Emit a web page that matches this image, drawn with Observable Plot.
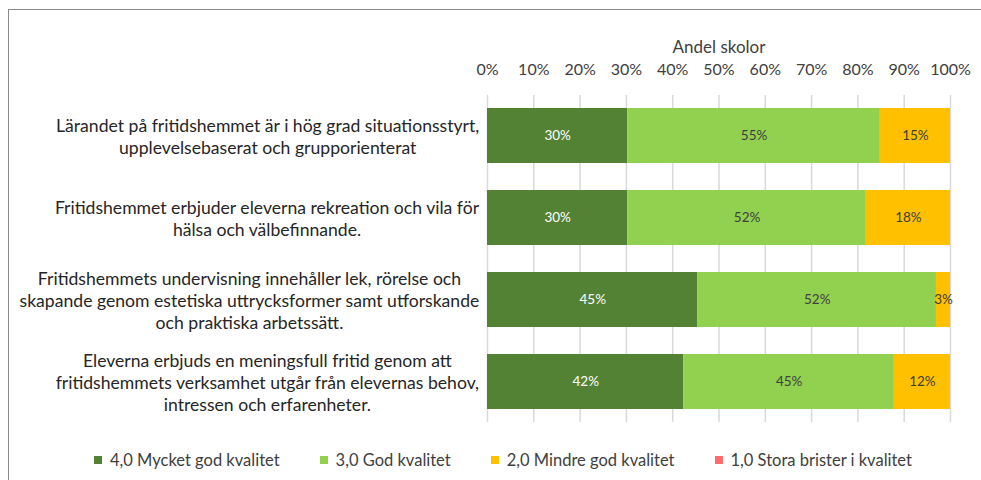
<!DOCTYPE html>
<html><head><meta charset="utf-8">
<script src="https://cdn.jsdelivr.net/npm/d3@7"></script>
<script src="https://cdn.jsdelivr.net/npm/@observablehq/plot@0.6"></script>
<style>
html,body{margin:0;padding:0;overflow:hidden;background:#fff;font-family:Lato, sans-serif;}
#frame{position:absolute;left:8px;top:9px;width:2000px;height:2000px;border-left:1px solid #8a8a8a;border-top:1px solid #8a8a8a;}
#chart{position:absolute;left:0;top:0;}
#legend{position:absolute;left:94px;top:449px;display:flex;gap:40px;font-size:16.5px;color:#404040;line-height:22px;}
.item{display:flex;align-items:center;white-space:nowrap;}
.sw{width:8px;height:8px;margin-right:8px;}
</style></head><body>
<div id="frame"></div><div id="chart"></div><div id="legend"></div>
<script>
const questions = [
  "Lärandet på fritidshemmet är i hög grad situationsstyrt,\nupplevelsebaserat och grupporienterat",
  "Fritidshemmet erbjuder eleverna rekreation och vila för\nhälsa och välbefinnande.",
  "Fritidshemmets undervisning innehåller lek, rörelse och\nskapande genom estetiska uttrycksformer samt utforskande\noch praktiska arbetssätt.",
  "Eleverna erbjuds en meningsfull fritid genom att\nfritidshemmets verksamhet utgår från elevernas behov,\nintressen och erfarenheter."
];
const categories = ["4,0 Mycket god kvalitet", "3,0 God kvalitet", "2,0 Mindre god kvalitet", "1,0 Stora brister i kvalitet"];
const colors = ["#548235", "#92d050", "#ffc000", "#ff6b6b"];
const mycketGod = [30.30, 30.30, 45.45, 42.42];
const god = [54.55, 51.52, 51.52, 45.45];
const mindreGod = [15.15, 18.18, 3.03, 12.12];
const storaBrister = [0, 0, 0, 0];
const xTicks = [0, 10, 20, 30, 40, 50, 60, 70, 80, 90, 100];
const axisTitle = "Andel skolor";

const series = [mycketGod, god, mindreGod, storaBrister];
const rows = [];
questions.forEach((q, i) => series.forEach((s, j) => rows.push({question: q, category: categories[j], value: s[i]})));
const label = d => d.value > 0 ? Math.round(d.value) + "%" : "";
const pct = d => d + "%";

// layout of the plot frame
const W = 981, mL = 487, mR = 31;
const labelFont = 17.6;
const rightEdge = 479;
const ctx = document.createElement("canvas").getContext("2d");
ctx.font = `${labelFont}px Lato`;
const pxPerUnit = (W - mL - mR) / 100;
const labelX = questions.map(q => {
  const w = Math.max(...q.split("\n").map(s => ctx.measureText(s).width));
  return (rightEdge - w / 2 - mL) / pxPerUnit;
});

const plot = Plot.plot({
  width: W, height: 430,
  marginLeft: mL, marginRight: mR, marginTop: 95, marginBottom: 8,
  style: {fontFamily: "Lato, sans-serif", fontSize: "15px", color: "#404040", background: "transparent"},
  x: {domain: [0, 100], ticks: xTicks, tickFormat: pct},
  y: {domain: questions, paddingInner: 0.33, paddingOuter: 0.155, axis: null},
  color: {domain: categories, range: colors},
  marks: [
    Plot.gridX(xTicks, {stroke: "#d9d9d9", strokeOpacity: 1, strokeWidth: 1.5}),
    Plot.barX(rows, Plot.stackX({x: "value", y: "question", fill: "category", order: categories})),
    Plot.text(rows, Plot.stackX({x: "value", y: "question", z: "category", order: categories,
      text: d => d.category === categories[0] ? label(d) : "", fill: "#ffffff", fontSize: 13.5})),
    Plot.text(rows, Plot.stackX({x: "value", y: "question", z: "category", order: categories,
      text: d => d.category !== categories[0] ? label(d) : "", fill: "#404040", fontSize: 13.5})),
    Plot.axisX(xTicks, {anchor: "top", tickSize: 0, tickPadding: 21, tickFormat: pct, label: null, fontSize: 16, fill: "#404040"}),
    Plot.text([axisTitle], {frameAnchor: "top", dy: -55, fontSize: 17, fill: "#404040"}),
    Plot.text(questions, {x: (d, i) => labelX[i], y: d => d, text: d => d, textAnchor: "middle", lineHeight: 1.25, fontSize: labelFont, fill: "#262626"})
  ]
});
document.getElementById("chart").appendChild(plot);

const legend = document.getElementById("legend");
categories.forEach((c, i) => {
  const item = document.createElement("div");
  item.className = "item";
  item.innerHTML = `<span class="sw" style="background:${colors[i]}"></span><span>${c}</span>`;
  legend.appendChild(item);
});
</script>
</body></html>
